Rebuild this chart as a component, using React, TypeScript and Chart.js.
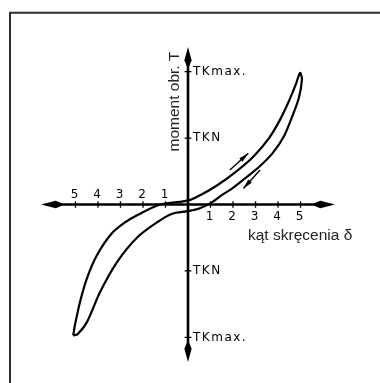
import React, { useEffect, useRef } from "react";
import { Chart, registerables } from "chart.js";

Chart.register(...registerables);

// ---- data ----
// upper branch of the hysteresis loop, from lower-left tip to upper-right tip
const upperX = [-5.1, -5.02, -4.8, -4.49, -4.04, -3.4, -2.8, -2.2, -1.24, -0.36, 0.1, 0.6, 1.3, 2.15, 2.9, 3.6, 4.08, 4.45, 4.78, 4.98];
const upperY = [-1.97, -1.81, -1.47, -1.11, -0.76, -0.44, -0.27, -0.15, 0.0, 0.04, 0.07, 0.15, 0.29, 0.5, 0.72, 1.0, 1.27, 1.53, 1.8, 1.98];
// lower branch, from upper-right tip back to lower-left tip
const lowerX = [5.06, 4.92, 4.6, 4.25, 3.75, 3.2, 2.6, 2.0, 1.5, 1.0, 0.5, 0.0, -0.7, -1.38, -2.27, -3.16, -3.91, -4.49, -4.9];
const lowerY = [1.88, 1.6, 1.3, 1.02, 0.77, 0.58, 0.41, 0.25, 0.14, 0.02, -0.06, -0.1, -0.14, -0.27, -0.5, -0.87, -1.32, -1.77, -1.95];

// x ticks: positive side labelled below the axis, negative side labelled above
const xTicksRight = [1, 2, 3, 4, 5];
const xTickLabelsRight = ["1", "2", "3", "4", "5"];
const xTicksLeft = [-1, -2, -3, -4, -5];
const xTickLabelsLeft = ["1", "2", "3", "4", "5"];
// y ticks (TKN = 1, TKmax = 2)
const yTicks = [2, 1, -1, -2];
const yTickLabels = ["TKmax.", "TKN", "TKN", "TKmax."];

// direction arrows along the loop: [from, to]
const arrowLoad = [[1.86, 0.52], [2.68, 0.77]];
const arrowUnload = [[3.2, 0.52], [2.46, 0.24]];

const xTitle = "kąt skręcenia δ";
const yTitle = "moment obr. T";

const X_MIN = -6.53;
const X_MAX = 6.53;
const Y_MIN = -2.37;
const Y_MAX = 2.37;

function arrowHead(ctx: CanvasRenderingContext2D, tx: number, ty: number, dx: number, dy: number, len: number, hw: number) {
  const n = Math.hypot(dx, dy) || 1;
  const ux = dx / n, uy = dy / n; // direction toward tip
  const px = -uy, py = ux;
  const bx = tx - ux * len, by = ty - uy * len;
  ctx.beginPath();
  ctx.moveTo(tx, ty);
  ctx.lineTo(bx + ux * len * 0.3 + px * hw, by + uy * len * 0.3 + py * hw);
  ctx.lineTo(bx + px * 1.3, by + py * 1.3);
  ctx.lineTo(bx - px * 1.3, by - py * 1.3);
  ctx.lineTo(bx + ux * len * 0.3 - px * hw, by + uy * len * 0.3 - py * hw);
  ctx.closePath();
  ctx.fill();
}

function smallArrowHead(ctx: CanvasRenderingContext2D, tx: number, ty: number, dx: number, dy: number, len: number, hw: number) {
  const n = Math.hypot(dx, dy) || 1;
  const ux = dx / n, uy = dy / n;
  const px = -uy, py = ux;
  const bx = tx - ux * len, by = ty - uy * len;
  ctx.beginPath();
  ctx.moveTo(tx, ty);
  ctx.lineTo(bx + px * hw, by + py * hw);
  ctx.lineTo(bx - px * hw, by - py * hw);
  ctx.closePath();
  ctx.fill();
}

const diagramPlugin = {
  id: "diagram",
  beforeDatasetsDraw(chart: any) {
    const ctx: CanvasRenderingContext2D = chart.ctx;
    const xs = chart.scales.x;
    const ys = chart.scales.y;
    const ox = xs.getPixelForValue(0);
    const oy = ys.getPixelForValue(0);
    const xl = xs.getPixelForValue(X_MIN);
    const xr = xs.getPixelForValue(X_MAX);
    const yt = ys.getPixelForValue(Y_MAX);
    const yb = ys.getPixelForValue(Y_MIN);
    ctx.save();

    // frame (top and left edges)
    ctx.strokeStyle = "#2e2e2e";
    ctx.lineWidth = 2;
    ctx.beginPath();
    ctx.moveTo(10, 383);
    ctx.lineTo(10, 12.7);
    ctx.lineTo(380, 12.7);
    ctx.stroke();

    // axes
    ctx.strokeStyle = "#000";
    ctx.fillStyle = "#000";
    ctx.lineWidth = 2.6;
    ctx.beginPath();
    ctx.moveTo(xl + 10, oy);
    ctx.lineTo(xr - 10, oy);
    ctx.moveTo(ox, yt + 10);
    ctx.lineTo(ox, yb - 10);
    ctx.stroke();
    arrowHead(ctx, xl, oy, -1, 0, 21, 3.8);
    arrowHead(ctx, xr, oy, 1, 0, 21, 3.8);
    arrowHead(ctx, ox, yt, 0, -1, 19, 3.6);
    arrowHead(ctx, ox, yb, 0, 1, 19, 3.6);

    // ticks
    ctx.lineWidth = 1.3;
    ctx.beginPath();
    [...xTicksRight, ...xTicksLeft].forEach((v) => {
      const px = xs.getPixelForValue(v);
      ctx.moveTo(px, oy - 3.2);
      ctx.lineTo(px, oy + 3.2);
    });
    yTicks.forEach((v) => {
      const py = ys.getPixelForValue(v);
      ctx.moveTo(ox - 3.4, py);
      ctx.lineTo(ox + 3.4, py);
    });
    ctx.stroke();

    // tick labels
    ctx.fillStyle = "#000";
    ctx.font = '12px "DejaVu Sans"';
    ctx.textAlign = "center";
    ctx.textBaseline = "middle";
    xTicksRight.forEach((v, i) => {
      ctx.fillText(xTickLabelsRight[i], xs.getPixelForValue(v) - 1, oy + 12.5);
    });
    xTicksLeft.forEach((v, i) => {
      ctx.fillText(xTickLabelsLeft[i], xs.getPixelForValue(v) - 1, oy - 9.5);
    });
    ctx.textAlign = "left";
    (ctx as any).letterSpacing = "1.5px";
    yTicks.forEach((v, i) => {
      ctx.fillText(yTickLabels[i], ox + 5, ys.getPixelForValue(v));
    });
    (ctx as any).letterSpacing = "0px";

    // axis titles
    ctx.fillStyle = "#222";
    ctx.font = '15.5px "Liberation Sans", Arial, sans-serif';
    ctx.textAlign = "left";
    ctx.textBaseline = "alphabetic";
    ctx.fillText(xTitle, ox + 60, oy + 35.5);
    ctx.save();
    ctx.translate(ox - 9, oy - 53);
    ctx.rotate(-Math.PI / 2);
    ctx.fillText(yTitle, 0, 0);
    ctx.restore();

    ctx.restore();
  },
  afterDatasetsDraw(chart: any) {
    const ctx: CanvasRenderingContext2D = chart.ctx;
    const xs = chart.scales.x;
    const ys = chart.scales.y;
    ctx.save();
    ctx.strokeStyle = "#000";
    ctx.fillStyle = "#000";
    ctx.lineWidth = 1.4;
    [arrowLoad, arrowUnload].forEach((a) => {
      const x0 = xs.getPixelForValue(a[0][0]);
      const y0 = ys.getPixelForValue(a[0][1]);
      const x1 = xs.getPixelForValue(a[1][0]);
      const y1 = ys.getPixelForValue(a[1][1]);
      ctx.beginPath();
      ctx.moveTo(x0, y0);
      ctx.lineTo(x1, y1);
      ctx.stroke();
      smallArrowHead(ctx, x1, y1, x1 - x0, y1 - y0, 10, 2.4);
    });
    ctx.restore();
  },
};

export default function App() {
  const ref = useRef<HTMLCanvasElement | null>(null);
  useEffect(() => {
    if (!ref.current) return;
    const loop = [
      ...upperX.map((x, i) => ({ x, y: upperY[i] })),
      ...lowerX.map((x, i) => ({ x, y: lowerY[i] })),
      { x: upperX[0], y: upperY[0] },
    ];
    const chart = new Chart(ref.current, {
      type: "scatter",
      data: {
        datasets: [
          {
            data: loop,
            showLine: true,
            borderColor: "#000",
            borderWidth: 2.2,
            pointRadius: 0,
            tension: 0.3,
            fill: false,
            clip: false as any,
          },
        ],
      },
      options: {
        animation: false,
        responsive: false,
        events: [],
        layout: { padding: { left: 41, right: 45, top: 47, bottom: 21 } },
        plugins: { legend: { display: false }, tooltip: { enabled: false } },
        scales: {
          x: { type: "linear", min: X_MIN, max: X_MAX, display: false },
          y: { type: "linear", min: Y_MIN, max: Y_MAX, display: false },
        },
      },
      plugins: [diagramPlugin],
    });
    return () => chart.destroy();
  }, []);
  return (
    <div style={{ position: "fixed", left: 0, top: 0, width: 380, height: 383, background: "#fff" }}>
      <canvas ref={ref} width={380} height={383} style={{ width: 380, height: 383, display: "block" }} />
    </div>
  );
}
